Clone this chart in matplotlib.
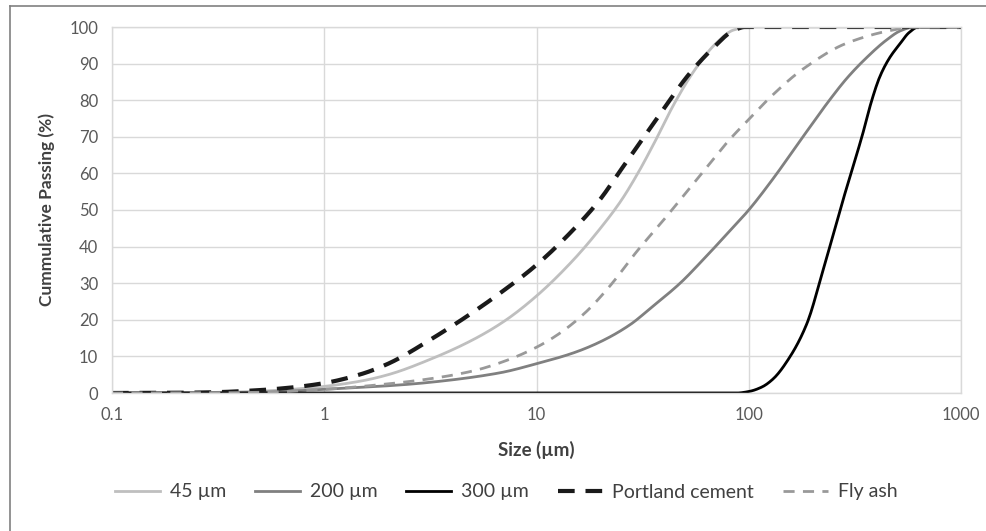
import numpy as np
import matplotlib.pyplot as plt
from matplotlib.lines import Line2D
from matplotlib.ticker import FixedLocator, FixedFormatter, NullLocator

plt.rcParams['font.family'] = ['Lato', 'DejaVu Sans']

# --- data (size in um, cumulative passing in %) ---
size_45 = [0.1, 0.2, 0.3, 0.5, 0.7, 1, 1.5, 2, 3.25, 5, 7, 10, 15, 20, 25, 30, 36, 45, 56, 70, 85, 100, 1000]
pass_45 = [0, 0.05, 0.15, 0.5, 1.0, 1.8, 3.3, 5.0, 9.5, 14.5, 19.5, 26.5, 36.5, 45, 52.5, 60, 68.5, 79.5, 88.5, 95.5, 99.2, 100, 100]

size_200 = [0.1, 0.3, 0.5, 1, 2.27, 3.25, 6.7, 10, 15, 20, 27.5, 35, 47.5, 60, 82, 100, 130, 180, 240, 290, 350, 447, 520, 600, 1000]
pass_200 = [0, 0.05, 0.2, 1.0, 2.2, 3, 5.5, 8, 11, 14, 18.6, 23.5, 30, 36, 44.5, 50, 58.5, 70, 80, 86, 91, 96.5, 99, 100, 100]

size_300 = [0.1, 88, 100, 115, 130, 156, 188, 224, 278, 345, 380, 415, 460, 517, 570, 630, 1000]
pass_300 = [0, 0, 0.4, 1.6, 3.8, 9.8, 19, 33.6, 52.7, 71, 80, 86.5, 91.5, 95.5, 98.5, 100, 100]

size_pc = [0.1, 0.2, 0.3, 0.5, 0.7, 1, 1.5, 2, 3.25, 5, 7, 10, 16, 20, 25, 35, 53, 70, 82, 96, 1000]
pass_pc = [0, 0.05, 0.2, 0.8, 1.5, 2.7, 5.2, 8, 15, 22, 28, 35, 46.5, 53, 61, 73, 87.5, 95, 98.5, 100, 100]

size_fa = [0.1, 0.3, 0.5, 1, 2, 3.25, 5, 7, 10, 13, 17, 22, 30, 40, 60, 82, 101, 130, 180, 290, 480, 600, 1000]
pass_fa = [0, 0.05, 0.2, 1.0, 2.5, 4, 6, 8.6, 12.5, 16.5, 22, 29, 39, 47.5, 60, 69.5, 75, 81.5, 88.5, 95.6, 99.2, 100, 100]

x_ticks = [0.1, 1, 10, 100, 1000]
x_labels = ['0.1', '1', '10', '100', '1000']
y_ticks = list(range(0, 101, 10))


def pchip(x, y, n=600):
    # monotone cubic (Fritsch-Carlson) in log-size space, like Excel's smoothed lines
    lx = np.log10(np.asarray(x, float))
    y = np.asarray(y, float)
    h = np.diff(lx)
    d = np.diff(y) / h
    m = np.zeros_like(y)
    for k in range(1, len(y) - 1):
        if d[k - 1] * d[k] > 0:
            w1 = 2 * h[k] + h[k - 1]
            w2 = h[k] + 2 * h[k - 1]
            m[k] = (w1 + w2) / (w1 / d[k - 1] + w2 / d[k])
    m[0] = d[0]
    m[-1] = d[-1]
    grid = np.linspace(lx[0], lx[-1], n)
    idx = np.clip(np.searchsorted(lx, grid) - 1, 0, len(h) - 1)
    t = (grid - lx[idx]) / h[idx]
    h00 = 2 * t**3 - 3 * t**2 + 1
    h10 = t**3 - 2 * t**2 + t
    h01 = -2 * t**3 + 3 * t**2
    h11 = t**3 - t**2
    yy = h00 * y[idx] + h10 * h[idx] * m[idx] + h01 * y[idx + 1] + h11 * h[idx] * m[idx + 1]
    return 10 ** grid, yy


fig = plt.figure(figsize=(9.87, 5.31), dpi=100)
ax = fig.add_axes([112 / 987, 1 - 393 / 531, (961 - 112) / 987, (393 - 27) / 531])

ax.plot(*pchip(size_45, pass_45), color='#bfbfbf', lw=2.0, label='45 µm')
ax.plot(*pchip(size_200, pass_200), color='#808080', lw=2.0, label='200 µm')
ax.plot(*pchip(size_300, pass_300), color='#000000', lw=2.0, label='300 µm')
ax.plot(*pchip(size_pc, pass_pc), color='#1a1a1a', lw=3.0, ls=(0, (4, 2.6)), label='Portland cement')
ax.plot(*pchip(size_fa, pass_fa), color='#999999', lw=2.0, ls=(0, (4, 3)), label='Fly ash')

ax.set_xscale('log')
ax.set_xlim(0.1, 1000)
ax.set_ylim(0, 100)
ax.xaxis.set_major_locator(FixedLocator(x_ticks))
ax.xaxis.set_major_formatter(FixedFormatter(x_labels))
ax.xaxis.set_minor_locator(NullLocator())
ax.set_yticks(y_ticks)
ax.grid(True, color='#d9d9d9', lw=1)
ax.set_axisbelow(True)
for s in ax.spines.values():
    s.set_color('#d9d9d9')
    s.set_linewidth(1)
ax.tick_params(length=0, labelsize=12, colors='#595959', pad=10)

ax.set_xlabel('Size (µm)', fontsize=13.5, fontweight='bold', color='#404040', labelpad=13)
ax.set_ylabel('Cummulative Passing (%)', fontsize=12.5, fontweight='bold', color='#404040', labelpad=10)

leg = fig.legend(loc='center', bbox_to_anchor=(0.513, 1 - 492 / 531), ncol=5, frameon=False,
                 fontsize=14, handlelength=2.3, columnspacing=1.5, handletextpad=0.5)
for t in leg.get_texts():
    t.set_color('#404040')

# outer chart border (only the left and top edges are visible in the crop)
fig.add_artist(Line2D([10 / 987, 10 / 987], [0, 1 - 6 / 531], color='#808080', lw=1.2, transform=fig.transFigure))
fig.add_artist(Line2D([10 / 987, 1], [1 - 6 / 531, 1 - 6 / 531], color='#808080', lw=1.2, transform=fig.transFigure))

fig.savefig('out.png', dpi=100)
